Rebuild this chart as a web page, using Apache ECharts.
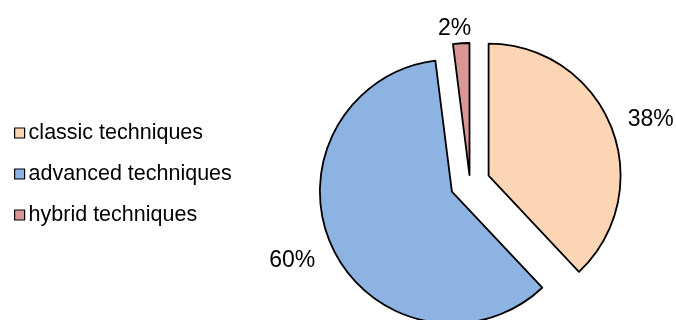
<!DOCTYPE html>
<html>
<head>
<meta charset="utf-8">
<script src="https://cdn.jsdelivr.net/npm/echarts@6/dist/echarts.min.js"></script>
<style>
	html, body { margin: 0; padding: 0; background: #fff; }
	#chart { width: 676px; height: 320px; }
</style>
</head>
<body>
<div id="chart"></div>
<script>
var categories = ['classic techniques', 'advanced techniques', 'hybrid techniques'];
var shares = [38, 60, 2];
var colors = ['#fcd5b5', '#8db3e2', '#d99694'];
// excel style explode: two big slices pulled further than the small one
var bigPulled = [true, true, false];
var labelLen = [22, 19, 15];
// nudges so the % labels sit where excel put them
var labelDx = [-9, 5, 16];
var labelDy = [1, 5, 0];

var myChart = echarts.init(document.getElementById('chart'), null, { renderer: 'canvas' });

function buildData(visibleFn) {
	var data = [];
	for (var i = 0; i < categories.length; i++) {
		var show = visibleFn(i);
		data.push({
			name: categories[i],
			value: shares[i],
			selected: show,
			itemStyle: show ? {
				color: colors[i],
				borderColor: '#000',
				borderWidth: 1.8
			} : {
				color: 'rgba(0,0,0,0)',
				borderWidth: 0
			},
			label: { show: show },
			labelLine: { show: false, length: labelLen[i], length2: 0 }
		});
	}
	return data;
}

var pieBase = {
	type: 'pie',
	center: [470, 183],
	radius: [0, 132],
	startAngle: 90,
	clockwise: true,
	avoidLabelOverlap: false,
	selectedMode: 'multiple',
	silent: true,
	animation: false,
	label: {
		position: 'outside',
		formatter: '{d}%',
		color: '#000',
		fontSize: 23,
		fontFamily: 'Liberation Sans, Arial, sans-serif'
	},
	labelLayout: function(params) {
		return { dx: labelDx[params.dataIndex], dy: labelDy[params.dataIndex] };
	},
	emphasis: { disabled: true }
};

var legendData = [];
for (var i = 0; i < categories.length; i++) {
	legendData.push({ name: categories[i], itemStyle: { color: colors[i] } });
}

var option = {
	backgroundColor: '#fff',
	legend: {
		orient: 'vertical',
		left: 9,
		top: 117,
		itemWidth: 10,
		itemHeight: 10,
		itemGap: 19,
		icon: 'rect',
		selectedMode: false,
		data: legendData,
		itemStyle: { borderColor: '#000', borderWidth: 1.2 },
		textStyle: {
			color: '#000',
			fontSize: 21.5,
			fontFamily: 'Liberation Sans, Arial, sans-serif',
			padding: [0, 0, 0, -1]
		}
	},
	series: [
		Object.assign({}, pieBase, {
			name: 'main',
			selectedOffset: 20,
			data: buildData(function(i) { return bigPulled[i]; })
		}),
		Object.assign({}, pieBase, {
			name: 'small',
			selectedOffset: 8,
			data: buildData(function(i) { return !bigPulled[i]; })
		})
	]
};
myChart.setOption(option);
</script>
</body>
</html>
